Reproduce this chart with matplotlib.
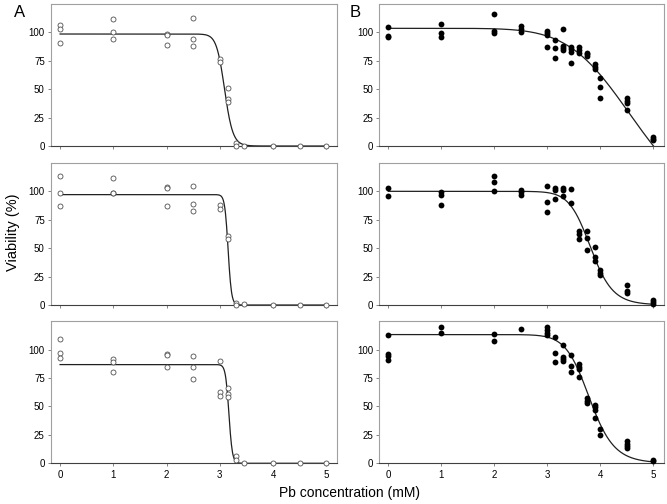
import numpy as np
import matplotlib
matplotlib.use("Agg")
import matplotlib.pyplot as plt

plt.rcParams['font.family'] = ['Liberation Sans', 'DejaVu Sans']

# panel A (open circles)
a1_x = [0, 0, 0, 1, 1, 1, 2, 2, 2, 2.5, 2.5, 2.5, 3, 3, 3.15, 3.15, 3.15, 3.3, 3.3, 3.45, 4, 4.5, 5]
a1_y = [106.5, 102.6, 90.6, 111.4, 100, 94.1, 98.5, 97.8, 88.9, 112.6, 94.1, 88.3, 76.2, 73.9,
        50.7, 41, 38.4, 2.4, 0, 0, 0, 0, 0]
a2_x = [0, 0, 0, 1, 1, 1, 2, 2, 2, 2.5, 2.5, 2.5, 3, 3, 3.15, 3.15, 3.3, 3.3, 3.45, 4, 4.5, 5]
a2_y = [113.1, 98.8, 87.2, 112, 98.8, 98.2, 103.5, 102.9, 87.2, 104.7, 88.9, 82.5, 87.8, 84.3,
        60.9, 58, 1.8, 0, 0.5, 0, 0, 0]
a3_x = [0, 0, 0, 1, 1, 1, 2, 2, 2, 2.5, 2.5, 2.5, 3, 3, 3, 3.15, 3.15, 3.15, 3.3, 3.3, 3.45, 4, 4.5, 5]
a3_y = [109.4, 96.8, 92.7, 92.1, 88.9, 80.1, 96.2, 95.3, 84.5, 94.7, 85.1, 74, 90.2, 62.8, 59.6,
        66.6, 60.5, 58.2, 6, 3.2, 0.3, 0, 0, 0]

# panel B (filled circles)
b1_x = [0, 0, 0, 1, 1, 1, 2, 2, 2, 2.5, 2.5, 2.5, 3, 3, 3, 3, 3.15, 3.15, 3.15,
        3.3, 3.3, 3.3, 3.3, 3.45, 3.45, 3.45, 3.45, 3.6, 3.6, 3.6, 3.75, 3.75, 3.75,
        3.9, 3.9, 3.9, 4, 4, 4, 4.5, 4.5, 4.5, 4.5, 5, 5, 5]
b1_y = [105, 96.8, 95.9, 107.3, 99.1, 96.2, 116.1, 101.5, 99.1, 105.9, 103.2, 100.6,
        101, 99, 97.5, 87, 93.2, 86.1, 77.1, 102.9, 88, 86.1, 84.5, 86.9, 85.5, 83, 73.3,
        86.9, 84.5, 81.5, 82.1, 80.7, 79.1, 71.8, 69.8, 67.4, 59.8, 52.2, 42,
        42, 39.7, 37.7, 31.7, 7.6, 6.4, 5]
b2_x = [0, 0, 1, 1, 1, 2, 2, 2, 2.5, 2.5, 2.5, 3, 3, 3, 3.15, 3.15, 3.15, 3.3, 3.3, 3.3,
        3.45, 3.45, 3.6, 3.6, 3.6, 3.75, 3.75, 3.75, 3.9, 3.9, 3.9, 4, 4, 4,
        4.5, 4.5, 4.5, 5, 5, 5]
b2_y = [102.6, 96.2, 99.5, 96.5, 88.3, 113.5, 108.5, 100.3, 101.5, 99.4, 97.1,
        104.4, 90.9, 81.6, 103, 101.2, 93.6, 103, 101.2, 95.9, 102.3, 89.8,
        64.9, 62.9, 58.2, 65.5, 59.1, 48.2, 50.9, 42.1, 38.6, 30.7, 28.4, 26,
        18, 12.6, 10.5, 4.7, 2.6, 0.9]
b3_x = [0, 0, 0, 0, 1, 1, 2, 2, 2.5, 3, 3, 3, 3, 3.15, 3.15, 3.15, 3.3, 3.3, 3.3, 3.3,
        3.45, 3.45, 3.45, 3.6, 3.6, 3.6, 3.6, 3.75, 3.75, 3.75, 3.9, 3.9, 3.9, 3.9,
        4, 4, 4.5, 4.5, 4.5, 4.5, 5, 5]
b3_y = [112.9, 96.5, 94.4, 91.2, 120.2, 114.9, 114, 107.6, 118.4, 120, 117.5, 115, 113,
        110.8, 97.4, 88.9, 104.1, 93.8, 91.8, 90, 95.3, 85.9, 80.7, 87.1, 84.8, 82.7, 76.2,
        57.3, 55.2, 52.9, 50.9, 49.1, 47.1, 39.7, 30.1, 24.5, 19.2, 16.9, 14.8, 13.4, 3.2, 1.7]

# fitted curves: top, bottom, ec50, hill slope
fit_a = [(98.5, 0, 3.09, 40), (97.1, 0, 3.155, 100), (86.8, 0, 3.17, 99)]
fit_b = [(103.5, -70, 4.73, 7.0), (100, 0, 3.82, 18.5), (113.2, 0, 3.80, 16.5)]

data_a = [(a1_x, a1_y), (a2_x, a2_y), (a3_x, a3_y)]
data_b = [(b1_x, b1_y), (b2_x, b2_y), (b3_x, b3_y)]

rows_bottom = [0.7103, 0.3948, 0.0808]
row_h = 0.282
col_left = [0.0765, 0.5687]
col_w = [0.4288, 0.4268]


def hill(x, top, bottom, ec50, n):
    return bottom + (top - bottom) / (1 + (x / ec50) ** n)


def style_axis(ax, show_labels):
    ax.set_xlim(-0.17, 5.2)
    ax.set_ylim(0, 125)
    ax.set_xticks([0, 1, 2, 3, 4, 5])
    ax.set_yticks([0, 25, 50, 75, 100])
    for s in ['left', 'top', 'right']:
        ax.spines[s].set_color('#a0a0a0')
        ax.spines[s].set_linewidth(0.8)
    ax.spines['bottom'].set_color('#404040')
    ax.spines['bottom'].set_linewidth(0.8)
    ax.tick_params(length=2.5, width=0.6, color='#707070', labelsize=7, pad=2)
    if not show_labels:
        ax.set_xticklabels([])


fig = plt.figure(figsize=(6.67, 5.04), dpi=100)
xs = np.linspace(0.0, 5.0, 500)
for r in range(3):
    for c in range(2):
        ax = fig.add_axes([col_left[c], rows_bottom[r], col_w[c], row_h])
        style_axis(ax, r == 2)
        if c == 0:
            px, py = data_a[r]
            ax.plot(px, py, 'o', ms=3.6, mfc='white', mec='#505050', mew=0.6, clip_on=False, zorder=3)
            p = fit_a[r]
        else:
            px, py = data_b[r]
            ax.plot(px, py, 'o', ms=4.2, mfc='black', mec='black', mew=0, clip_on=False, zorder=3)
            p = fit_b[r]
        ax.plot(xs, hill(xs, *p), color='#202020', lw=0.9, zorder=2)

fig.text(0.03, 0.975, 'A', fontsize=12, ha='center', va='center')
fig.text(0.532, 0.975, 'B', fontsize=12, ha='center', va='center')
fig.text(0.019, 0.54, 'Viability (%)', fontsize=10.5, rotation=90, ha='center', va='center')
fig.text(0.524, 0.022, 'Pb concentration (mM)', fontsize=10, ha='center', va='center')

fig.savefig('out.png', dpi=100)
